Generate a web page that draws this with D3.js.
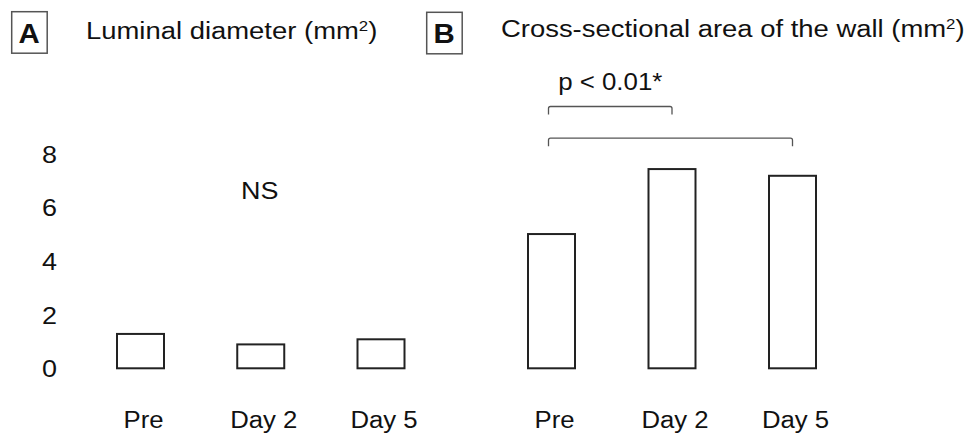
<!DOCTYPE html>
<html>
<head>
<meta charset="utf-8">
<script src="https://cdn.jsdelivr.net/npm/d3@7"></script>
<style>
  body { margin: 0; background: #fff; }
  text { font-family: "Liberation Sans", Arial, Helvetica, sans-serif; fill: #111; }
</style>
</head>
<body>
<script>
const width = 969
const height = 435

// data
const categories = ['Pre', 'Day 2', 'Day 5']
const luminal = [1.28, 0.89, 1.08]
const wallArea = [5.0, 7.42, 7.17]
const yTicks = [0, 2, 4, 6, 8]
const brackets = [
  {from: 'Pre', to: 'Day 2', level: 9.75, label: 'p < 0.01*'},
  {from: 'Pre', to: 'Day 5', level: 8.57, label: ''}
]

const svg = d3.select('body').append('svg')
  .attr('width', width)
  .attr('height', height)

const y = d3.scaleLinear().domain([0, 8]).range([368.3, 153.5])
const xA = d3.scalePoint().domain(categories).range([140.5, 381])
const xB = d3.scalePoint().domain(categories).range([551.5, 792.5])
const barWidth = 47

// stretched text helper (original glyphs are a bit wider than Arial)
function label(g, x, yy, str, size, anchor, weight, sx) {
  return g.append('text')
    .attr('transform', `translate(${x},${yy}) scale(${sx || 1.1},1)`)
    .attr('text-anchor', anchor || 'middle')
    .attr('font-size', size)
    .attr('font-weight', weight || 'normal')
    .text(str)
}

// y axis
const axis = svg.append('g')
  .attr('transform', 'translate(49.5,0)')
  .call(d3.axisLeft(y).tickValues(yTicks).tickSize(0).tickPadding(0))
axis.select('.domain').remove()
axis.selectAll('text')
  .attr('x', 0)
  .attr('dy', '0.35em')
  .attr('text-anchor', 'middle')
  .attr('font-size', 24.5)
  .attr('font-family', null)
  .attr('fill', '#111')
  .attr('transform', 'scale(1.1,1)')

// bars for each panel
function drawPanel(x, values) {
  const g = svg.append('g')
  g.selectAll('rect.bar')
    .data(values)
    .enter().append('rect').classed('bar', true)
    .attr('x', (d, i) => x(categories[i]) - barWidth / 2)
    .attr('y', d => y(d))
    .attr('width', barWidth)
    .attr('height', d => y(0) - y(d))
    .attr('fill', '#fff')
    .attr('stroke', '#222')
    .attr('stroke-width', 2)

  categories.forEach(c => label(g, x(c) + 3, 427.5, c, 24.5, 'middle', 'normal', 1.05))
  return g
}

const panelA = drawPanel(xA, luminal)
const panelB = drawPanel(xB, wallArea)

label(panelA, xA('Day 2') - 1, 199, 'NS', 24.5)

// significance brackets
brackets.forEach(b => {
  const x1 = xB(b.from) - 3
  const x2 = xB(b.to)
  const yy = y(b.level)
  const r = 2
  panelB.append('path')
    .attr('d', `M${x1},${yy + 8} L${x1},${yy + r} Q${x1},${yy} ${x1 + r},${yy}
                L${x2 - r},${yy} Q${x2},${yy} ${x2},${yy + r} L${x2},${yy + 8}`)
    .attr('fill', 'none')
    .attr('stroke', '#555')
    .attr('stroke-width', 1.3)
  if (b.label) label(panelB, (x1 + x2) / 2, yy - 17, b.label, 23.5)
})

// panel titles
function title(boxX, boxY, letter, tx, ty, str) {
  const g = svg.append('g')
  g.append('rect')
    .attr('x', boxX).attr('y', boxY)
    .attr('width', 35.5).attr('height', 41.5)
    .attr('fill', 'none')
    .attr('stroke', '#555')
    .attr('stroke-width', 1.5)
  label(g, boxX + 17.5, boxY + 31, letter, 28, 'middle', 'bold', 1.05)
  const t = label(g, tx, ty, str, 24.5, 'start', 'normal', 1.12)
  t.append('tspan').text('(mm')
  t.append('tspan').attr('font-size', 15).attr('dy', -8).text('2')
  t.append('tspan').attr('dy', 8).text(')')
}

title(11.7, 11.7, 'A', 86, 39, 'Luminal diameter  ')
title(426.7, 12.3, 'B', 501, 37, 'Cross-sectional area of the wall ')
</script>
</body>
</html>
